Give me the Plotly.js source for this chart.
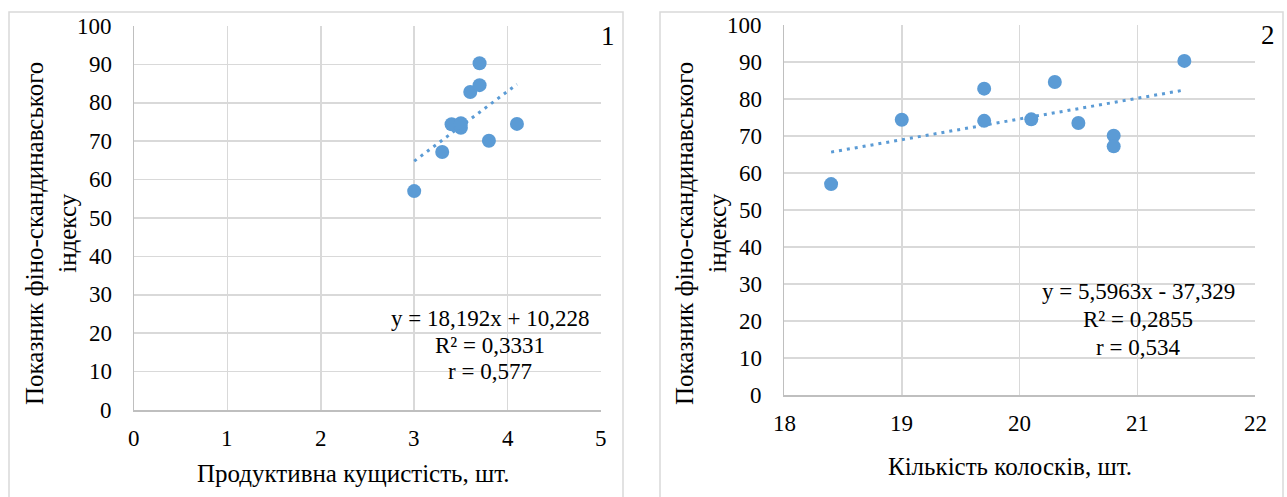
<!DOCTYPE html>
<html>
<head>
<meta charset="utf-8">
<script src="https://cdn.plot.ly/plotly-3.0.1.min.js"></script>
<style>html,body{margin:0;padding:0;background:#fff;}#chart{width:1287px;height:497px;}</style>
</head>
<body>
<div id="chart"></div>
<script>
// Chart 1: productive tillering vs index
const tillering = [3.0, 3.3, 3.4, 3.5, 3.5, 3.6, 3.7, 3.7, 3.8, 4.1];
const index1 = [57.0, 67.2, 74.4, 73.5, 74.7, 82.8, 84.6, 90.3, 70.1, 74.5];
// Chart 2: number of spikelets vs index
const spikelets = [18.4, 19.0, 19.7, 19.7, 20.1, 20.3, 20.5, 20.8, 20.8, 21.4];
const index2 = [57.0, 74.4, 82.8, 74.1, 74.5, 84.6, 73.5, 70.1, 67.2, 90.3];

// Tick values
const yTicks = [0, 10, 20, 30, 40, 50, 60, 70, 80, 90, 100];
const xTicks1 = [0, 1, 2, 3, 4, 5];
const xTicks2 = [18, 19, 20, 21, 22];

// Trendline equations as shown on the charts
const slope1 = 18.192, intercept1 = 10.228;
const slope2 = 5.5963, intercept2 = -37.329;

const labels1 = ['y = 18,192x + 10,228', 'R² = 0,3331', 'r = 0,577'];
const labels2 = ['y = 5,5963x - 37,329', 'R² = 0,2855', 'r = 0,534'];
const xTitle1 = 'Продуктивна кущистість, шт.';
const xTitle2 = 'Кількість колосків, шт.';
const yTitle = 'Показник фіно-скандинавського<br>індексу';

const W = 1287, H = 497;
const px = v => v / W, py = v => 1 - v / H;

const blue = '#5B9BD5';
const grid = '#D9D9D9';
const axisCol = '#BFBFBF';
const font = 'Liberation Serif';

function trend(xs, m, b) {
  const lo = Math.min(...xs), hi = Math.max(...xs);
  return {x: [lo, hi], y: [m * lo + b, m * hi + b]};
}
const t1 = trend(tillering, slope1, intercept1);
const t2 = trend(spikelets, slope2, intercept2);

const traces = [
  {x: t1.x, y: t1.y, mode: 'lines', xaxis: 'x', yaxis: 'y',
   line: {color: blue, width: 3, dash: '3px,5px'}, hoverinfo: 'skip'},
  {x: tillering, y: index1, mode: 'markers', xaxis: 'x', yaxis: 'y',
   marker: {color: blue, size: 14}},
  {x: t2.x, y: t2.y, mode: 'lines', xaxis: 'x2', yaxis: 'y2',
   line: {color: blue, width: 3, dash: '3px,5px'}, hoverinfo: 'skip'},
  {x: spikelets, y: index2, mode: 'markers', xaxis: 'x2', yaxis: 'y2',
   marker: {color: blue, size: 14}}
];

function ax(extra) {
  return Object.assign({
    showgrid: true, gridcolor: grid, gridwidth: 1.5,
    zeroline: false, showline: true, linecolor: axisCol, linewidth: 1.5,
    ticks: '', showticklabels: false
  }, extra);
}

const annots = [];
function txt(t, x, y, xref, yref, size, opts) {
  annots.push(Object.assign({text: t, x: x, y: y, xref: xref, yref: yref,
    xanchor: 'center', yanchor: 'middle', showarrow: false,
    font: {family: font, size: size, color: '#000'}}, opts || {}));
}

// tick labels
yTicks.forEach(v => {
  txt(String(v), px(114), v, 'paper', 'y', 23, {xanchor: 'right'});
  txt(String(v), px(764), v, 'paper', 'y2', 23, {xanchor: 'right'});
});
xTicks1.forEach(v => txt(String(v), v, py(438), 'x', 'paper', 23));
xTicks2.forEach(v => txt(String(v), v, py(423), 'x2', 'paper', 23));

// equations
labels1.forEach((t, i) => txt(t, px(490), py([318, 345, 371][i]), 'paper', 'paper', 23));
labels2.forEach((t, i) => txt(t, px(1138), py([291, 319, 347][i]), 'paper', 'paper', 23));

// titles and panel numbers
txt(xTitle1, px(353), py(473), 'paper', 'paper', 25);
txt(xTitle2, px(1010), py(466), 'paper', 'paper', 25);
txt(yTitle, px(51), py(234), 'paper', 'paper', 25, {textangle: -90});
txt(yTitle, px(701), py(234), 'paper', 'paper', 25, {textangle: -90});
txt('1', px(608), py(36), 'paper', 'paper', 27);
txt('2', px(1268), py(35), 'paper', 'paper', 27);

const layout = {
  width: W, height: H,
  margin: {l: 0, r: 0, t: 0, b: 0},
  font: {family: font, size: 23, color: '#000'},
  paper_bgcolor: '#fff', plot_bgcolor: '#fff',
  showlegend: false,
  xaxis: ax({domain: [px(134), px(601)], range: [0, 5], dtick: 1, anchor: 'y'}),
  yaxis: ax({domain: [py(410), py(26)], range: [0, 100], dtick: 10, anchor: 'x'}),
  xaxis2: ax({domain: [px(784), px(1255)], range: [18, 22], dtick: 1, anchor: 'y2'}),
  yaxis2: ax({domain: [py(395), py(25)], range: [0, 100], dtick: 10, anchor: 'x2'}),
  annotations: annots,
  shapes: [
    {type: 'rect', xref: 'paper', yref: 'paper', x0: px(9), x1: px(623), y0: py(520), y1: py(12),
     line: {color: grid, width: 1.5}},
    {type: 'rect', xref: 'paper', yref: 'paper', x0: px(660), x1: px(1283), y0: py(520), y1: py(12),
     line: {color: grid, width: 1.5}}
  ]
};

Plotly.newPlot('chart', traces, layout, {displayModeBar: false, staticPlot: true});
</script>
</body>
</html>
